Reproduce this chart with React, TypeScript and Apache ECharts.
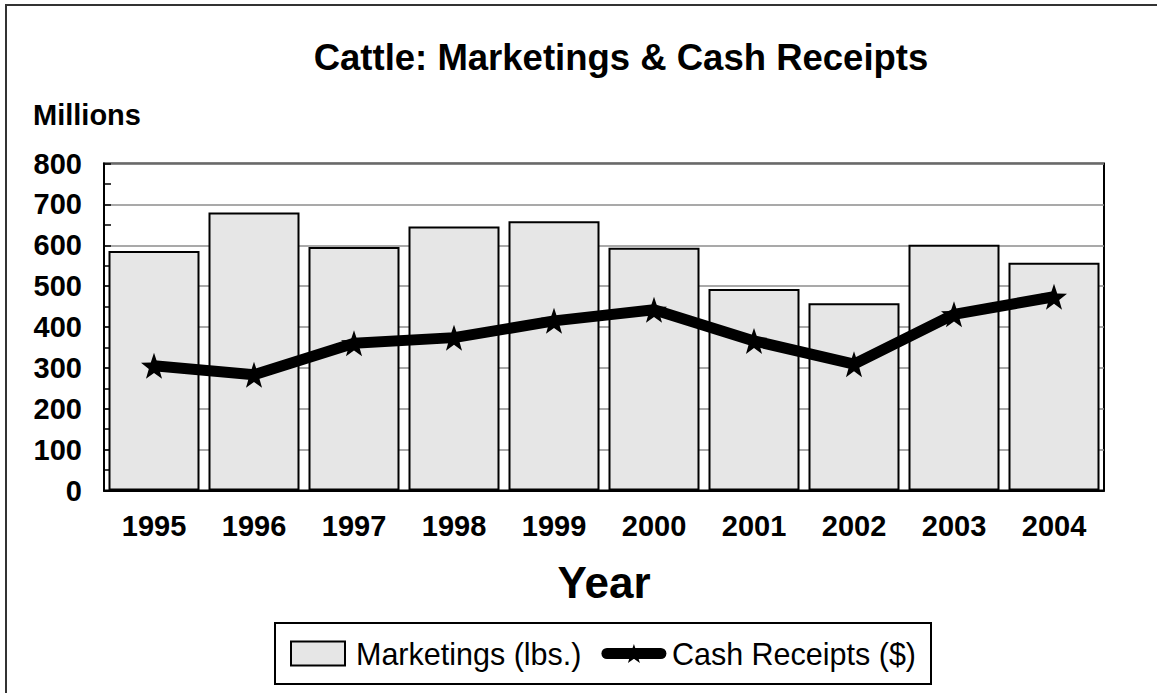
import React, { useEffect, useRef } from "react";
import * as echarts from "echarts";

const years = ["1995", "1996", "1997", "1998", "1999", "2000", "2001", "2002", "2003", "2004"];
const marketings = [586, 680, 596, 646, 659, 594, 493, 458, 601, 557];
const cashReceipts = [305, 283, 360, 374, 415, 442, 366, 309, 431, 474];
const yTicks = [0, 100, 200, 300, 400, 500, 600, 700, 800];

const STAR =
  "path://M50 0 L61.76 33.82 L97.55 34.55 L69.02 56.18 L79.39 90.45 L50 70 L20.61 90.45 L30.98 56.18 L2.45 34.55 L38.24 33.82 Z";
const FONT = "'Liberation Sans', Arial, sans-serif";

export default function App() {
  const ref = useRef<HTMLDivElement>(null);
  useEffect(() => {
    const chart = echarts.init(ref.current!, null, { renderer: "svg" });
    chart.setOption({
      animation: false,
      backgroundColor: "#ffffff",
      textStyle: { fontFamily: FONT },
      title: {
        text: "Cattle: Marketings & Cash Receipts",
        left: 616,
        top: 34,
        textAlign: "center",
        textStyle: { fontFamily: FONT, fontSize: 36.5, fontWeight: "bold", color: "#000" },
      },
      graphic: [
        { type: "line", shape: { x1: 5, y1: 5, x2: 1157, y2: 5 }, style: { stroke: "#333", lineWidth: 2 } },
        { type: "line", shape: { x1: 6, y1: 5, x2: 6, y2: 693 }, style: { stroke: "#333", lineWidth: 2 } },
        {
          type: "text",
          left: 33,
          top: 100,
          style: { text: "Millions", fontFamily: FONT, fontSize: 29, fontWeight: "bold", fill: "#000" },
        },
      ],
      legend: {
        left: 275,
        top: 623,
        padding: [15, 15, 15, 15],
        borderColor: "#000",
        borderWidth: 2,
        itemGap: 20,
        itemWidth: 54,
        itemHeight: 24,
        textStyle: { fontFamily: FONT, fontSize: 30.5, color: "#000", padding: [0, 0, 0, 6] },
        data: [
          { name: "Marketings (lbs.)", icon: "rect" },
          { name: "Cash Receipts ($)", lineStyle: { width: 11, color: "#000", cap: "round" } },
        ],
      },
      grid: {
        left: 104,
        right: 53,
        top: 163.5,
        bottom: 202.5,
        show: true,
        borderColor: "#000",
        borderWidth: 2,
        backgroundColor: "#fff",
      },
      xAxis: {
        type: "category",
        data: years,
        name: "Year",
        nameLocation: "middle",
        nameGap: 70,
        nameTextStyle: { fontFamily: FONT, fontSize: 44, fontWeight: "bold", color: "#000" },
        axisLine: { lineStyle: { color: "#000", width: 2 } },
        axisTick: { show: true, alignWithLabel: true, inside: true, length: 14, lineStyle: { color: "#000", width: 1.5 } },
        axisLabel: { fontFamily: FONT, fontSize: 29, fontWeight: "bold", color: "#000", margin: 21 },
      },
      yAxis: {
        type: "value",
        min: yTicks[0],
        max: yTicks[yTicks.length - 1],
        interval: 100,
        axisLine: { show: true, lineStyle: { color: "#000", width: 2 } },
        axisTick: { show: true, inside: true, length: 7, lineStyle: { color: "#000", width: 1.5 } },
        minorTick: { show: true, splitNumber: 2, length: 7, lineStyle: { color: "#000", width: 1.5 } },
        splitLine: { show: true, lineStyle: { color: "#8c8c8c", width: 1.5 } },
        axisLabel: { fontFamily: FONT, fontSize: 29, fontWeight: "bold", color: "#000", margin: 22 },
      },
      series: [
        {
          name: "Marketings (lbs.)",
          type: "bar",
          data: marketings,
          barCategoryGap: "9%",
          itemStyle: { color: "#e6e6e6", borderColor: "#000", borderWidth: 2 },
        },
        {
          name: "Cash Receipts ($)",
          type: "line",
          data: cashReceipts,
          symbol: STAR,
          symbolSize: 26,
          lineStyle: { color: "#000", width: 11 },
          itemStyle: { color: "#000" },
        },
      ],
    });
    return () => chart.dispose();
  }, []);
  return (
    <div
      ref={ref}
      style={{ position: "fixed", left: 0, top: 0, width: 1157, height: 693, background: "#fff" }}
    />
  );
}
